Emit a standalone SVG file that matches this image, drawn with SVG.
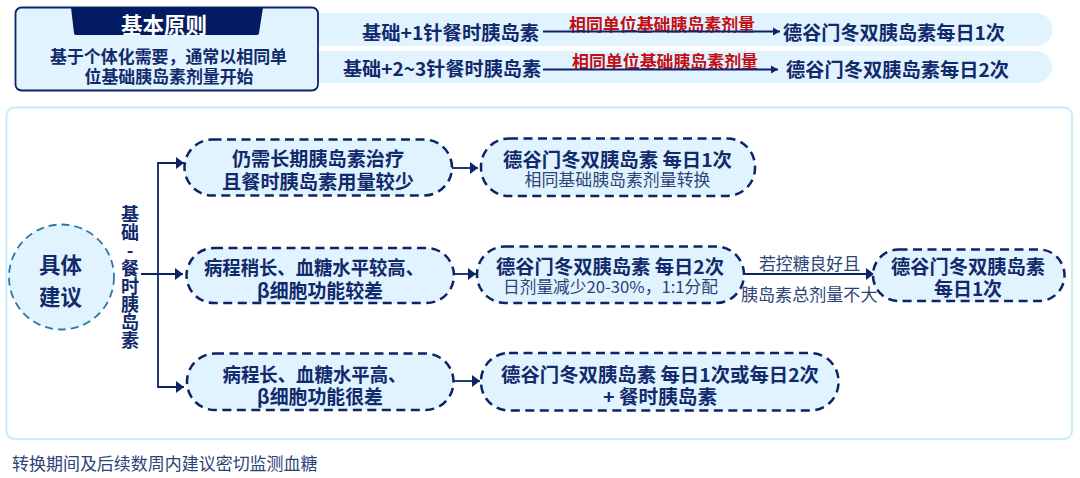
<svg xmlns="http://www.w3.org/2000/svg" width="1080" height="478" viewBox="0 0 1080 478">
<style>
text{font-family:"Noto Sans CJK SC","Liberation Sans",sans-serif;fill:#112a6c;dominant-baseline:central;text-anchor:start}
.b{font-weight:700}
.r{font-weight:400;fill:#2b4377}
.red{font-weight:700;fill:#c20e14}
.n{fill:#e1f3fe;stroke:#0d2367;stroke-width:2.5;stroke-dasharray:9 5.5}
.bar{fill:#e1f3fe}
.c{fill:none;stroke:#0d2367;stroke-width:1.8}
.h{marker-end:url(#a)}
.s{marker-end:url(#s)}
</style>
<defs>
<marker id="a" markerUnits="userSpaceOnUse" markerWidth="9" markerHeight="14" refX="8" refY="7" orient="auto"><path d="M0 1L8 7L0 13Z" fill="#0d2367"/></marker>
<marker id="s" markerUnits="userSpaceOnUse" markerWidth="8" markerHeight="10" refX="7" refY="5" orient="auto"><path d="M0 1L7 5L0 9Z" fill="#0d2367"/></marker>
</defs>
<rect width="1080" height="478" fill="#fff"/>

<g id="bars">
<path class="bar" d="M318 13H1036a16.500 16.500 0 0 1 0 33H318Z"/>
<path class="bar" d="M318 51H1036a16 16 0 0 1 0 32H318Z"/>
</g>
<g id="principle">
<rect x="15.500" y="7.500" width="302.500" height="83" rx="6" fill="#e1f3fe" stroke="#0d2367" stroke-width="1.800"/>
<path d="M71 7.500H263L259 33a2 2 0 0 1-2 2H76a2 2 0 0 1-2-2Z" fill="#021b62"/>
<text class="b" x="121" y="23" font-size="21.500" textLength="86" lengthAdjust="spacingAndGlyphs" style="fill:#fff">基本原则</text>
<text class="b" x="50" y="55" font-size="17" textLength="237" lengthAdjust="spacingAndGlyphs">基于个体化需要，通常以相同单</text>
<text class="b" x="84.500" y="75" font-size="17" textLength="169" lengthAdjust="spacingAndGlyphs">位基础胰岛素剂量开始</text>
</g>
<g id="row1">
<text class="b" x="362" y="31" font-size="19" textLength="177" lengthAdjust="spacingAndGlyphs">基础+1针餐时胰岛素</text>
<text class="red" x="569" y="23" font-size="17" textLength="186" lengthAdjust="spacingAndGlyphs">相同单位基础胰岛素剂量</text>
<text class="b" x="783" y="31" font-size="19" textLength="222" lengthAdjust="spacingAndGlyphs">德谷门冬双胰岛素每日1次</text>
</g>
<g id="row2">
<text class="b" x="343" y="67" font-size="19" textLength="198" lengthAdjust="spacingAndGlyphs">基础+2~3针餐时胰岛素</text>
<text class="red" x="572" y="60.500" font-size="17" textLength="186" lengthAdjust="spacingAndGlyphs">相同单位基础胰岛素剂量</text>
<text class="b" x="786" y="68" font-size="19" textLength="223" lengthAdjust="spacingAndGlyphs">德谷门冬双胰岛素每日2次</text>
</g>

<rect id="panel" x="6.500" y="107.500" width="1065.500" height="331.500" rx="8" fill="#fff" stroke="#c6ebfa" stroke-width="2"/>

<g id="connectors">
<path class="c s" d="M543 31.500H780"/>
<path class="c s" d="M543 69.500H778"/>
<path class="c h" d="M158 274V163H184"/>
<path class="c h" d="M141 274H183"/>
<path class="c h" d="M158 274V387H184"/>
<path class="c h" d="M452 168H478"/>
<path class="c h" d="M454 274H476"/>
<path class="c h" d="M454 381H480"/>
<path class="c h" d="M744 274H874"/>
</g>

<g id="advice">
<circle cx="61.500" cy="277" r="52.500" fill="#e1f3fe" stroke="#2a7aa6" stroke-width="1.800" stroke-dasharray="8 5"/>
<text class="b" x="39" y="263" font-size="21.500">具体</text>
<text class="b" x="39" y="295" font-size="21.500">建议</text>
</g>
<g id="basal-label">
<text class="b" x="130" y="205" font-size="18" style="writing-mode:vertical-rl;text-orientation:upright">基础-餐时胰岛素</text>
</g>

<g id="node1">
<rect class="n" x="184.500" y="139.500" width="267.500" height="56" rx="28"/>
<text class="b" x="232" y="157" font-size="19.500" textLength="172" lengthAdjust="spacingAndGlyphs">仍需长期胰岛素治疗</text>
<text class="b" x="222" y="180" font-size="19.500" textLength="192" lengthAdjust="spacingAndGlyphs">且餐时胰岛素用量较少</text>
</g>
<g id="node1b">
<rect class="n" x="481" y="138.500" width="274" height="57.500" rx="28"/>
<text class="b" x="503" y="158" font-size="19" textLength="229" lengthAdjust="spacingAndGlyphs">德谷门冬双胰岛素 每日1次</text>
<text class="r" x="524.500" y="179" font-size="16.500" textLength="186" lengthAdjust="spacingAndGlyphs">相同基础胰岛素剂量转换</text>
</g>
<g id="node2">
<rect class="n" x="186.500" y="248" width="267.500" height="55" rx="27.500"/>
<text class="b" x="204" y="266" font-size="19.500" textLength="220" lengthAdjust="spacingAndGlyphs">病程稍长、血糖水平较高、</text>
<text class="b" x="257" y="289" font-size="19.500" textLength="126" lengthAdjust="spacingAndGlyphs">β细胞功能较差</text>
</g>
<g id="node2b">
<rect class="n" x="477" y="246.500" width="267" height="56.500" rx="28"/>
<text class="b" x="496" y="265" font-size="19" textLength="228" lengthAdjust="spacingAndGlyphs">德谷门冬双胰岛素 每日2次</text>
<text class="r" x="503" y="286" font-size="16.500" textLength="215" lengthAdjust="spacingAndGlyphs">日剂量减少20-30%，1:1分配</text>
</g>
<g id="edge-label">
<text class="r" x="759" y="262" font-size="17" textLength="101" lengthAdjust="spacingAndGlyphs">若控糖良好且</text>
<text class="r" x="741" y="293" font-size="17" textLength="136.500" lengthAdjust="spacingAndGlyphs">胰岛素总剂量不大</text>
</g>
<g id="node2c">
<rect class="n" x="873" y="249.500" width="191.500" height="51.500" rx="25.500"/>
<text class="b" x="891" y="265" font-size="19" textLength="154" lengthAdjust="spacingAndGlyphs">德谷门冬双胰岛素</text>
<text class="b" x="934" y="287" font-size="19" textLength="68" lengthAdjust="spacingAndGlyphs">每日1次</text>
</g>
<g id="node3">
<rect class="n" x="187" y="353.500" width="266.500" height="56.500" rx="28"/>
<text class="b" x="222.500" y="373" font-size="19.500" textLength="184" lengthAdjust="spacingAndGlyphs">病程长、血糖水平高、</text>
<text class="b" x="257" y="395" font-size="19.500" textLength="126" lengthAdjust="spacingAndGlyphs">β细胞功能很差</text>
</g>
<g id="node3b">
<rect class="n" x="481" y="353" width="357.500" height="57.500" rx="28"/>
<text class="b" x="501" y="373" font-size="19" textLength="318" lengthAdjust="spacingAndGlyphs">德谷门冬双胰岛素 每日1次或每日2次</text>
<text class="b" x="603" y="395" font-size="19" textLength="114" lengthAdjust="spacingAndGlyphs">+ 餐时胰岛素</text>
</g>
<text class="r" x="12" y="462" font-size="17" textLength="305.500" lengthAdjust="spacingAndGlyphs">转换期间及后续数周内建议密切监测血糖</text>
</svg>
